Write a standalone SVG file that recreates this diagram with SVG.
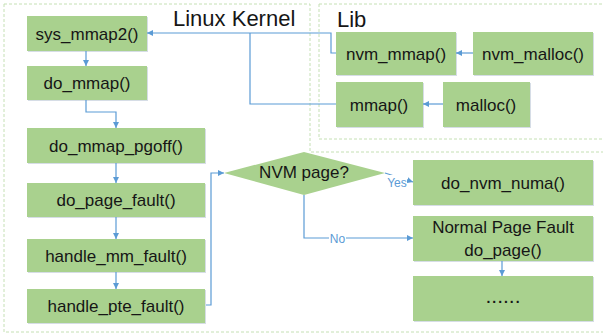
<svg xmlns="http://www.w3.org/2000/svg" width="603" height="334" viewBox="0 0 603 334">
  <style>
    .zone { fill: none; stroke: #c5e0b4; stroke-width: 1; stroke-dasharray: 3 2; }
    .box { fill: #a9d18e; }
    .shadow { fill: #d6dde6; }
    .lbl { font-family: "Liberation Sans", Arial, sans-serif; font-size: 17px; fill: #161616; text-anchor: middle; }
    .title { font-family: "Liberation Sans", Arial, sans-serif; font-size: 22px; fill: #161616; }
    .edge { fill: none; stroke: #5b9bd5; stroke-width: 1.2; }
    .elbl { font-family: "Liberation Sans", Arial, sans-serif; font-size: 12px; fill: #5b9bd5; text-anchor: middle; }
  </style>
  <defs>
    <marker id="arrow" viewBox="0 0 8 8" refX="8" refY="4" markerWidth="6" markerHeight="6" markerUnits="userSpaceOnUse" orient="auto">
      <path d="M0,0 L8,4 L0,8 z" fill="#5b9bd5"/>
    </marker>
  </defs>

  <rect width="603" height="334" fill="#ffffff"/>

  <!-- region outlines -->
  <path class="zone" d="M4,4 H310 V152 H606 M4,4 V332 H606"/>
  <path class="zone" d="M319,4 H606 M319,4 V139 H606"/>
  <text class="title" x="173" y="26">Linux Kernel</text>
  <text class="title" x="337" y="27">Lib</text>

  <!-- kernel call chain -->
  <g id="sys_mmap2">
    <rect class="shadow" x="28" y="17" width="120" height="35"/>
    <rect class="box" x="27" y="16" width="120" height="35"/>
    <text class="lbl" x="87" y="39.5">sys_mmap2()</text>
  </g>
  <g id="do_mmap">
    <rect class="shadow" x="28" y="67" width="120" height="34"/>
    <rect class="box" x="27" y="66" width="120" height="34"/>
    <text class="lbl" x="87" y="89">do_mmap()</text>
  </g>
  <g id="do_mmap_pgoff">
    <rect class="shadow" x="28" y="129" width="178" height="35"/>
    <rect class="box" x="27" y="128" width="178" height="35"/>
    <text class="lbl" x="116" y="151.5">do_mmap_pgoff()</text>
  </g>
  <g id="do_page_fault">
    <rect class="shadow" x="28" y="184" width="178" height="34"/>
    <rect class="box" x="27" y="183" width="178" height="34"/>
    <text class="lbl" x="116" y="206">do_page_fault()</text>
  </g>
  <g id="handle_mm_fault">
    <rect class="shadow" x="28" y="240" width="178" height="33"/>
    <rect class="box" x="27" y="239" width="178" height="33"/>
    <text class="lbl" x="116" y="261.5">handle_mm_fault()</text>
  </g>
  <g id="handle_pte_fault">
    <rect class="shadow" x="28" y="290" width="178" height="34"/>
    <rect class="box" x="27" y="289" width="178" height="34"/>
    <text class="lbl" x="116" y="312">handle_pte_fault()</text>
  </g>

  <!-- library functions -->
  <g id="nvm_mmap">
    <rect class="shadow" x="337" y="33" width="120" height="43"/>
    <rect class="box" x="336" y="32" width="120" height="43"/>
    <text class="lbl" x="396" y="59.5">nvm_mmap()</text>
  </g>
  <g id="nvm_malloc">
    <rect class="shadow" x="474" y="33" width="120" height="43"/>
    <rect class="box" x="473" y="32" width="120" height="43"/>
    <text class="lbl" x="533" y="59.5">nvm_malloc()</text>
  </g>
  <g id="mmap">
    <rect class="shadow" x="337" y="83" width="87" height="45"/>
    <rect class="box" x="336" y="82" width="87" height="45"/>
    <text class="lbl" x="379" y="110.5">mmap()</text>
  </g>
  <g id="malloc">
    <rect class="shadow" x="444" y="83" width="87" height="45"/>
    <rect class="box" x="443" y="82" width="87" height="45"/>
    <text class="lbl" x="486" y="110.5">malloc()</text>
  </g>

  <!-- decision and fault handlers -->
  <g id="nvm_page">
    <path class="box" d="M224,173 L304,152 L385,173 L304,195 z"/>
    <text class="lbl" x="304" y="178">NVM page?</text>
  </g>
  <g id="do_nvm_numa">
    <rect class="shadow" x="414" y="161" width="180" height="45"/>
    <rect class="box" x="413" y="160" width="180" height="45"/>
    <text class="lbl" x="503" y="188.5">do_nvm_numa()</text>
  </g>
  <g id="do_page">
    <rect class="shadow" x="414" y="217" width="180" height="45"/>
    <rect class="box" x="413" y="216" width="180" height="45"/>
    <text class="lbl" x="503" y="233">Normal Page Fault</text>
    <text class="lbl" x="503" y="256">do_page()</text>
  </g>
  <g id="more">
    <rect class="shadow" x="414" y="277" width="180" height="45"/>
    <rect class="box" x="413" y="276" width="180" height="45"/>
    <text class="lbl" x="503" y="303" style="font-size:21px">......</text>
  </g>

  <!-- connectors -->
  <g id="connectors">
    <path class="edge" d="M86,51 V66" marker-end="url(#arrow)"/>
    <path class="edge" d="M86,100 V112 H116 V128" marker-end="url(#arrow)"/>
    <path class="edge" d="M116,163 V183" marker-end="url(#arrow)"/>
    <path class="edge" d="M116,217 V239" marker-end="url(#arrow)"/>
    <path class="edge" d="M116,272 V289" marker-end="url(#arrow)"/>
    <path class="edge" d="M206,305 H211 V173 H224" marker-end="url(#arrow)"/>

    <path class="edge" d="M336,53 H331 V33 H147" marker-end="url(#arrow)"/>
    <path class="edge" d="M336,104 H250 V33"/>
    <path class="edge" d="M473,53 H456" marker-end="url(#arrow)"/>
    <path class="edge" d="M443,104 H423" marker-end="url(#arrow)"/>

    <path class="edge" d="M385,173 L413,182" marker-end="url(#arrow)"/>
    <rect x="387" y="175" width="20" height="13" fill="#ffffff"/>
    <text class="elbl" x="397" y="186.5">Yes</text>

    <path class="edge" d="M304,195 V238 H413" marker-end="url(#arrow)"/>
    <rect x="329" y="231" width="17" height="13" fill="#ffffff"/>
    <text class="elbl" x="337.5" y="242.5">No</text>

    <path class="edge" d="M502,261 V276" marker-end="url(#arrow)"/>
  </g>
</svg>
